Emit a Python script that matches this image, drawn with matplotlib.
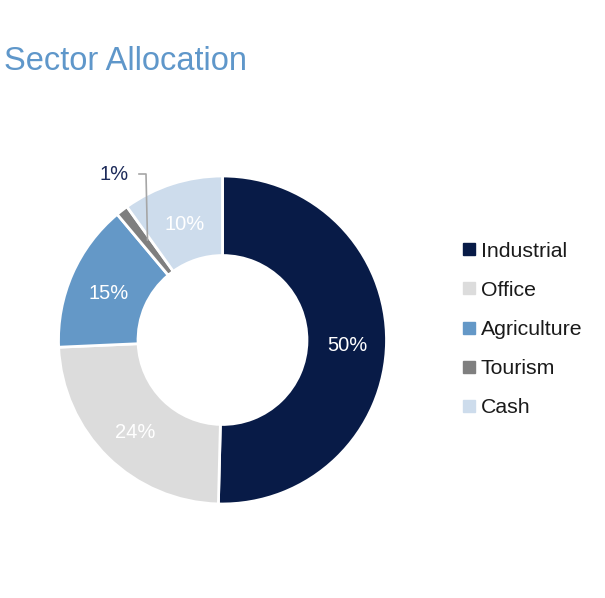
import matplotlib.pyplot as plt
import numpy as np
from matplotlib.lines import Line2D

plt.rcParams['font.family'] = ['Liberation Sans', 'DejaVu Sans']

# data
sectors = ['Industrial', 'Office', 'Agriculture', 'Tourism', 'Cash']
shares = [50.4, 23.9, 14.6, 1.2, 9.9]
labels = ['50%', '24%', '15%', '1%', '10%']
colors = ['#081b47', '#dcdcdc', '#6498c7', '#7f7f7f', '#cddcec']

W, H = 605, 598
fig = plt.figure(figsize=(W / 100, H / 100), dpi=100)

fig.text(4 / W, 1 - 62 / H, 'Sector Allocation', fontsize=23.5, color='#5f97ca',
         ha='left', va='center')

# donut axes: centre (222.5, 340) px, outer radius 164 px
cx, cy, r = 222.5, 340, 164
ax = fig.add_axes([(cx - r) / W, (H - cy - r) / H, 2 * r / W, 2 * r / H])
wedges, _ = ax.pie(shares, colors=colors, startangle=90, counterclock=False,
                   radius=1, wedgeprops=dict(width=0.485, edgecolor='white', linewidth=2))
ax.set_xlim(-1, 1)
ax.set_ylim(-1, 1)
ax.set_aspect('equal')
ax.axis('off')

dy = -3.5 / r  # nudge labels to sit like the original
for w, lab, s in zip(wedges, labels, shares):
    mid = np.deg2rad((w.theta1 + w.theta2) / 2)
    if s < 3:
        # small slice: label outside with leader line
        tx, ty = (114 - cx) / r, (cy - 171.5) / r
        ax.plot([(139 - cx) / r, (146 - cx) / r, (147.5 - cx) / r],
                [(cy - 174) / r, (cy - 174) / r, (cy - 240) / r],
                color='#a6a6a6', lw=1.2, clip_on=False)
        ax.text(tx, ty + dy, lab, fontsize=14.5, color='#1d2b5a', ha='center', va='center')
    else:
        ax.text(0.76 * np.cos(mid), 0.76 * np.sin(mid) + dy, lab, fontsize=14.5,
                color='white', ha='center', va='center')

handles = [Line2D([], [], marker='s', linestyle='none', markersize=8,
                  markerfacecolor=c, markeredgecolor=c) for c in colors]
fig.legend(handles, sectors, loc='upper left',
           bbox_to_anchor=(452 / W, 1 - 231 / H), frameon=False, fontsize=15.3,
           handlelength=0.6, handletextpad=0.25, labelspacing=0.95,
           labelcolor='#1a1a1a', borderpad=0)

fig.savefig('out.png', dpi=100)
